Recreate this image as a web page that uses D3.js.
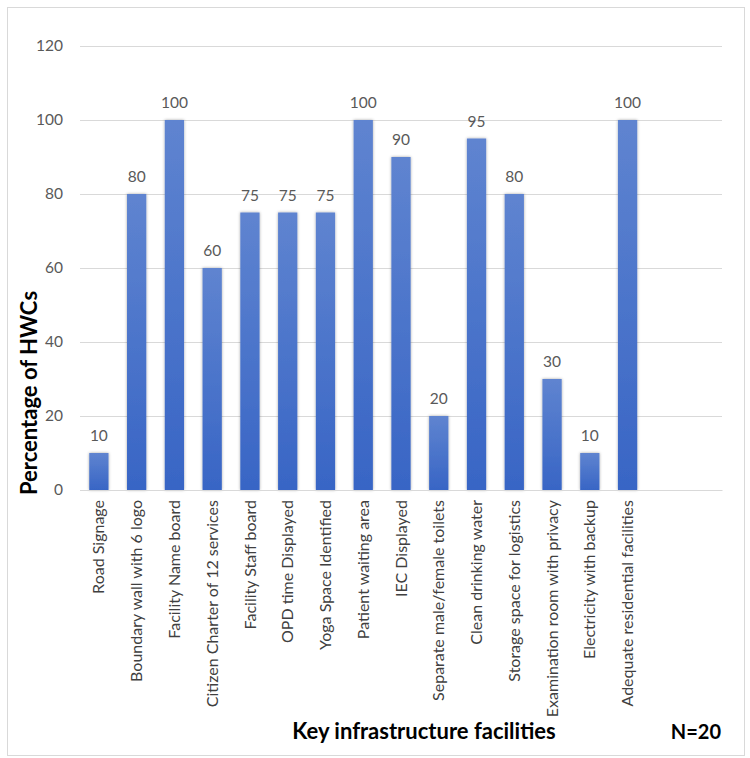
<!DOCTYPE html>
<html>
<head>
<meta charset="utf-8">
<script src="https://cdn.jsdelivr.net/npm/d3@7"></script>
<style>
    body { margin: 0; background: #fff; }
    svg { display: block; font-family: Lato, "Open Sans", sans-serif; }
</style>
</head>
<body>
<div id="chart"></div>
<script>
// Data
const categories = [
    "Road Signage",
    "Boundary wall with 6 logo",
    "Facility Name board",
    "Citizen Charter of 12 services",
    "Facility Staff board",
    "OPD time Displayed",
    "Yoga Space Identified",
    "Patient waiting area",
    "IEC Displayed",
    "Separate male/female toilets",
    "Clean drinking water",
    "Storage space for logistics",
    "Examination room with privacy",
    "Electricity with backup",
    "Adequate residential facilities"
];
const values = [10, 80, 100, 60, 75, 75, 75, 100, 90, 20, 95, 80, 30, 10, 100];
const yTicks = [0, 20, 40, 60, 80, 100, 120];

// Chart dimensions
const width = 750, height = 758;
const margin = { top: 46, right: 28, bottom: 268, left: 80 };
const innerW = width - margin.left - margin.right;
const innerH = height - margin.top - margin.bottom;

// the axis has two empty slots after the last category
const slots = categories.concat(["__a", "__b"]);

const x = d3.scaleBand()
    .domain(slots)
    .range([0, innerW])
    .paddingInner(0.49)
    .paddingOuter(0.245);

const y = d3.scaleLinear()
    .domain([0, 120])
    .range([innerH, 0]);

const svg = d3.select("#chart")
    .append("svg")
    .attr("width", width)
    .attr("height", height);

// outer frame
svg.append("rect")
    .attr("x", 7.5).attr("y", 7.5)
    .attr("width", 737).attr("height", 748)
    .attr("fill", "#fff")
    .attr("stroke", "#d9d9d9");

const defs = svg.append("defs");
const grad = defs.append("linearGradient")
    .attr("id", "barFill")
    .attr("x1", 0).attr("y1", 0).attr("x2", 0).attr("y2", 1);
grad.append("stop").attr("offset", "0%").attr("stop-color", "#5f84d0");
grad.append("stop").attr("offset", "100%").attr("stop-color", "#3865c5");

const shadow = defs.append("filter")
    .attr("id", "shadow")
    .attr("x", "-40%").attr("y", "-10%")
    .attr("width", "180%").attr("height", "120%");
shadow.append("feDropShadow")
    .attr("dx", 0).attr("dy", 0)
    .attr("stdDeviation", 1.8)
    .attr("flood-color", "#000")
    .attr("flood-opacity", 0.35);

const g = svg.append("g")
    .attr("transform", `translate(${margin.left},${margin.top})`);

// Gridlines
g.append("g")
    .call(d3.axisLeft(y).tickValues(yTicks).tickSize(-innerW).tickFormat(""))
    .call(s => s.select(".domain").remove())
    .selectAll("line")
    .attr("stroke", "#d9d9d9");

// Y tick labels
g.append("g")
    .call(d3.axisLeft(y).tickValues(yTicks).tickSize(0).tickPadding(17))
    .call(s => s.select(".domain").remove())
    .selectAll("text")
    .attr("fill", "#595959")
    .attr("font-size", "15.5px")
    .attr("font-family", "Lato, sans-serif");

// Bars
g.selectAll(".bar")
    .data(values)
    .join("rect")
    .attr("class", "bar")
    .attr("x", (d, i) => x(categories[i]))
    .attr("y", d => y(d))
    .attr("width", x.bandwidth())
    .attr("height", d => innerH - y(d))
    .attr("fill", "url(#barFill)")
    .attr("filter", "url(#shadow)");

// Value labels
g.selectAll(".val")
    .data(values)
    .join("text")
    .attr("class", "val")
    .attr("x", (d, i) => x(categories[i]) + x.bandwidth() / 2)
    .attr("y", d => y(d) - 12)
    .attr("text-anchor", "middle")
    .attr("fill", "#595959")
    .attr("font-size", "15.5px")
    .text(d => d);

// X axis
const xAxis = g.append("g")
    .attr("transform", `translate(0,${innerH})`)
    .call(d3.axisBottom(x).tickSize(0).tickFormat(d => categories.includes(d) ? d : ""));
xAxis.select(".domain").attr("stroke", "#d9d9d9");
xAxis.selectAll("text")
    .attr("transform", "rotate(-90)")
    .attr("text-anchor", "end")
    .attr("x", -10)
    .attr("y", 0)
    .attr("dy", "0.35em")
    .attr("fill", "#404040")
    .attr("font-size", "16px")
    .attr("font-family", "Lato, sans-serif");

// Axis titles
svg.append("text")
    .attr("transform", `translate(37,393) rotate(-90)`)
    .attr("text-anchor", "middle")
    .attr("font-size", "22px")
    .attr("font-weight", "bold")
    .attr("fill", "#000")
    .text("Percentage of HWCs");

svg.append("text")
    .attr("x", 424)
    .attr("y", 739)
    .attr("text-anchor", "middle")
    .attr("font-size", "22px")
    .attr("font-weight", "bold")
    .attr("fill", "#000")
    .text("Key infrastructure facilities");

svg.append("text")
    .attr("x", 721)
    .attr("y", 739)
    .attr("text-anchor", "end")
    .attr("font-size", "20px")
    .attr("font-weight", "bold")
    .attr("fill", "#000")
    .text("N=20");
</script>
</body>
</html>
